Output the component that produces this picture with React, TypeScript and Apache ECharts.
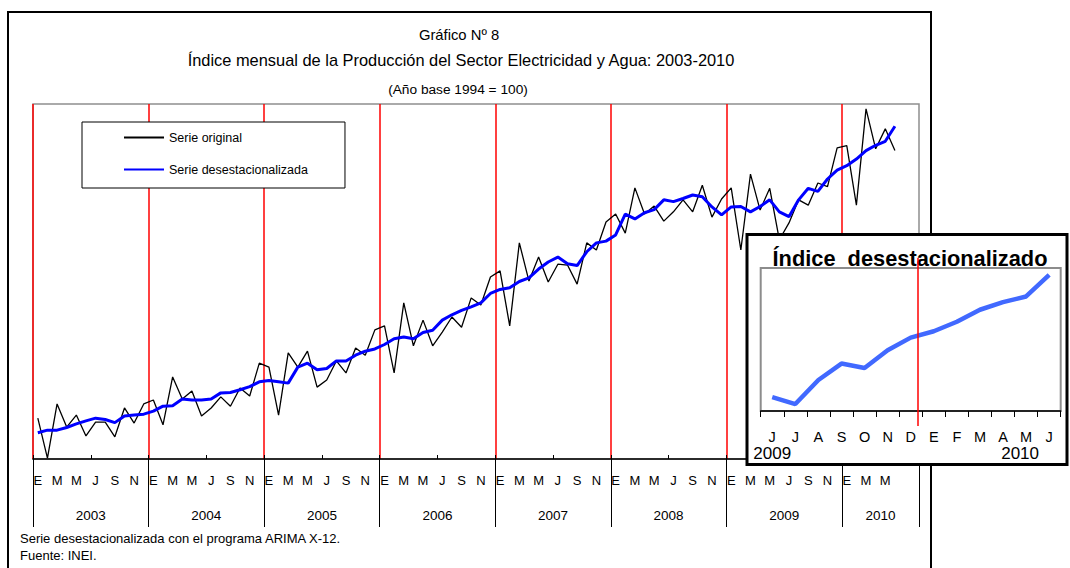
import React, { useEffect, useRef } from 'react';
import * as echarts from 'echarts';

const YEARS = [2003, 2004, 2005, 2006, 2007, 2008, 2009, 2010];
const MONTH_LETTERS = ['E', 'F', 'M', 'A', 'M', 'J', 'J', 'A', 'S', 'O', 'N', 'D'];
const AXIS_MONTHS = 92; // months reserved on the axis (Jan 2003 – Aug 2010)

const ORIGINAL = [
  149.2, 140.2, 152.4, 147.2, 149.9, 145.2, 148.3, 148.3, 145.0, 151.5, 148.1, 152.4,
  153.3, 147.7, 158.5, 153.5, 155.3, 149.7, 151.5, 154.0, 151.9, 156.0, 154.2, 161.6,
  160.7, 149.9, 163.9, 160.7, 164.3, 156.2, 157.8, 162.1, 159.4, 165.0, 163.4, 169.1,
  170.0, 159.4, 175.2, 165.5, 171.3, 165.5, 168.6, 172.0, 169.7, 176.3, 174.7, 181.0,
  182.4, 170.0, 188.7, 180.1, 185.5, 179.9, 183.9, 183.7, 179.4, 188.7, 187.1, 193.4,
  195.2, 190.9, 201.1, 195.2, 197.0, 193.6, 195.7, 198.4, 195.7, 201.7, 194.5, 198.6,
  201.1, 187.1, 204.2, 196.1, 201.0, 189.4, 193.2, 198.4, 197.2, 202.2, 201.4, 210.1,
  210.6, 197.2, 218.9, 209.9, 214.4, 209.5,
];

const DESEST = [
  145.9, 146.5, 146.5, 147.1, 147.9, 148.6, 149.2, 148.9, 148.2, 149.7, 149.9, 150.1,
  150.8, 151.9, 152.0, 153.5, 153.3, 153.3, 153.5, 154.9, 155.0, 155.6, 156.3, 157.4,
  157.7, 157.4, 157.1, 160.7, 161.6, 160.1, 160.4, 162.1, 162.1, 163.4, 164.3, 164.8,
  165.8, 167.1, 167.5, 167.1, 168.5, 169.0, 171.3, 172.5, 173.5, 174.3, 175.2, 177.3,
  178.2, 178.6, 180.0, 180.8, 182.8, 184.4, 185.5, 184.0, 183.6, 186.7, 188.7, 189.1,
  190.5, 195.2, 194.1, 195.5, 196.2, 198.4, 198.0, 198.7, 199.5, 199.1, 196.8, 195.0,
  196.8, 196.9, 195.7, 196.9, 198.4, 195.7, 194.6, 198.4, 201.0, 200.3, 203.1, 205.1,
  206.1, 207.6, 209.5, 210.7, 211.6, 215.0,
];

const INSET_START = 77; // junio 2009
const INSET_LABELS = ['J', 'J', 'A', 'S', 'O', 'N', 'D', 'E', 'F', 'M', 'A', 'M', 'J'];
const INSET_YEARS = ['2009', '2010'];
const INSET_YEAR_POS = [0, 11];

const TITLE_1 = 'Gráfico Nº 8';
const TITLE_2 = 'Índice mensual de la Producción del Sector Electricidad y Agua: 2003-2010';
const TITLE_3 = '(Año base 1994 = 100)';
const NOTE_1 = 'Serie desestacionalizada con el programa ARIMA X-12.';
const NOTE_2 = 'Fuente: INEI.';
const INSET_TITLE = 'Índice  desestacionalizado';

const FONT = '"Liberation Sans", Arial, Helvetica, sans-serif';

function buildOption(): any {
  const categories = Array.from(
    { length: AXIS_MONTHS },
    (_, i) => `${MONTH_LETTERS[i % 12]} ${YEARS[0] + Math.floor(i / 12)}`
  );
  const yearCenters = YEARS.map((_, k) => {
    const start = k * 12;
    const len = Math.min(12, AXIS_MONTHS - start);
    return start + len / 2;
  });
  const insetData = DESEST.slice(INSET_START);

  const hiddenLine = { show: false, onZero: false };

  return {
    animation: false,
    backgroundColor: '#ffffff',
    textStyle: { fontFamily: FONT },
    grid: [
      {
        left: 33, top: 104, width: 886, height: 355,
        show: true, borderColor: '#8f8f8f', borderWidth: 1.5, backgroundColor: 'transparent',
        containLabel: false, outerBoundsMode: 'none',
      },
      {
        left: 760.7, top: 268, width: 300, height: 143,
        show: true, borderColor: '#8c8c8c', borderWidth: 2, backgroundColor: 'transparent',
        containLabel: false, outerBoundsMode: 'none', z: 10,
      },
    ],
    legend: {
      data: ['Serie original', 'Serie desestacionalizada'],
      orient: 'vertical',
      left: 82,
      top: 122,
      padding: [9, 37, 12, 41],
      itemWidth: 40,
      itemHeight: 14,
      itemGap: 19,
      itemTextGap: 4,
      borderColor: '#000',
      borderWidth: 1,
      backgroundColor: '#fff',
      selectedMode: false,
      itemStyle: { opacity: 0 },
      textStyle: { fontSize: 12.5, color: '#000', fontFamily: FONT },
    },
    xAxis: [
      {
        type: 'category', gridIndex: 0, position: 'bottom', data: categories, boundaryGap: true,
        axisLine: { show: true, onZero: false, lineStyle: { color: '#000', width: 1.5 } },
        axisTick: { show: false },
        splitLine: { show: false },
        axisLabel: {
          interval: 1, margin: 15, fontSize: 13, color: '#000', fontFamily: FONT,
          formatter: (_v: string, i: number) => (i < ORIGINAL.length ? MONTH_LETTERS[i % 12] : ''),
        },
      },
      {
        type: 'value', gridIndex: 0, position: 'bottom', min: 0, max: AXIS_MONTHS, interval: 12,
        axisLine: hiddenLine,
        axisTick: { show: true, length: 68, lineStyle: { color: '#000', width: 1 } },
        axisLabel: { show: false },
        splitLine: { show: true, showMaxLine: false, lineStyle: { color: '#ff0000', width: 1.5 } },
      },
      {
        type: 'value', gridIndex: 0, position: 'bottom', min: 0, max: AXIS_MONTHS, interval: 6,
        axisLine: hiddenLine,
        axisTick: { show: true, inside: true, length: 4, lineStyle: { color: '#000', width: 1 } },
        axisLabel: { show: false },
        splitLine: { show: false },
      },
      {
        type: 'value', gridIndex: 0, position: 'bottom', min: 0, max: AXIS_MONTHS, interval: 2,
        axisLine: hiddenLine,
        axisTick: { show: false },
        splitLine: { show: false },
        axisLabel: {
          show: true, margin: 49, fontSize: 13.5, color: '#000', fontFamily: FONT,
          showMinLabel: true, showMaxLabel: true,
          formatter: (v: number) => {
            const k = yearCenters.indexOf(v);
            return k >= 0 ? String(YEARS[k]) : '';
          },
        },
      },
      {
        type: 'category', gridIndex: 1, position: 'bottom', data: INSET_LABELS.map((l, i) => `${l}${i}`),
        boundaryGap: true, z: 11,
        axisLine: { show: true, onZero: false, lineStyle: { color: '#000', width: 1.5 } },
        axisTick: { show: true, interval: 0, length: 6, lineStyle: { color: '#000', width: 1 } },
        splitLine: { show: false },
        axisLabel: {
          interval: 0, margin: 18, fontSize: 14.5, color: '#000', fontFamily: FONT,
          formatter: (_v: string, i: number) => INSET_LABELS[i],
        },
      },
      {
        type: 'category', gridIndex: 1, position: 'bottom', data: INSET_LABELS.map((l, i) => `${l}${i}`),
        boundaryGap: true, z: 11,
        axisLine: hiddenLine,
        axisTick: { show: false },
        splitLine: { show: false },
        axisLabel: {
          interval: 0, margin: 34, fontSize: 17, color: '#000', fontFamily: FONT,
          formatter: (_v: string, i: number) => {
            const k = INSET_YEAR_POS.indexOf(i);
            if (k < 0) return '';
            return k === 0 ? INSET_YEARS[k] : `{s|${INSET_YEARS[k]}}`;
          },
          rich: { s: { fontSize: 17, color: '#000', fontFamily: FONT, padding: [0, 12, 0, 0] } },
        },
      },
    ],
    yAxis: [
      { type: 'value', gridIndex: 0, min: 140, max: 220, show: false },
      { type: 'value', gridIndex: 1, min: 193.5, max: 216.1, show: false },
    ],
    series: [
      {
        name: 'Serie original', type: 'line', xAxisIndex: 0, yAxisIndex: 0,
        data: ORIGINAL, symbol: 'none', z: 2,
        lineStyle: { color: '#000', width: 1.3 }, itemStyle: { color: '#000' },
      },
      {
        name: 'Serie desestacionalizada', type: 'line', xAxisIndex: 0, yAxisIndex: 0,
        data: DESEST, symbol: 'none', z: 3,
        lineStyle: { color: '#0000ff', width: 3 }, itemStyle: { color: '#0000ff' },
      },
      {
        name: 'Índice desestacionalizado (recuadro)', type: 'line', xAxisIndex: 4, yAxisIndex: 1,
        data: insetData, symbol: 'none', z: 12,
        lineStyle: { color: '#4169ff', width: 4.5 }, itemStyle: { color: '#4169ff' },
      },
    ],
    graphic: [
      {
        type: 'rect', z: 1, silent: true,
        shape: { x: 8, y: 12, width: 923, height: 620 },
        style: { fill: 'none', stroke: '#000', lineWidth: 2 },
      },
      {
        type: 'text', z: 1, x: 459, y: 35,
        style: { text: TITLE_1, fontSize: 14.8, fontFamily: FONT, fill: '#000', align: 'center', verticalAlign: 'middle' },
      },
      {
        type: 'text', z: 1, x: 461, y: 60,
        style: { text: TITLE_2, fontSize: 16.4, fontFamily: FONT, fill: '#000', align: 'center', verticalAlign: 'middle' },
      },
      {
        type: 'text', z: 1, x: 458, y: 89,
        style: { text: TITLE_3, fontSize: 13.7, fontFamily: FONT, fill: '#000', align: 'center', verticalAlign: 'middle' },
      },
      {
        type: 'text', z: 1, x: 20, y: 538,
        style: { text: NOTE_1, fontSize: 13, fontFamily: FONT, fill: '#000', align: 'left', verticalAlign: 'middle' },
      },
      {
        type: 'text', z: 1, x: 20, y: 555,
        style: { text: NOTE_2, fontSize: 13, fontFamily: FONT, fill: '#000', align: 'left', verticalAlign: 'middle' },
      },
      {
        type: 'rect', z: 5, silent: true,
        shape: { x: 747, y: 234.5, width: 320, height: 230 },
        style: { fill: '#fff', stroke: '#000', lineWidth: 3 },
      },
      {
        type: 'text', z: 20, x: 910, y: 258,
        style: { text: INSET_TITLE, fontSize: 21.8, fontWeight: 'bold', fontFamily: FONT, fill: '#000', align: 'center', verticalAlign: 'middle' },
      },
      {
        type: 'line', z: 20, silent: true,
        shape: { x1: 918, y1: 258, x2: 918, y2: 426 },
        style: { stroke: '#ff0000', lineWidth: 1.5 },
      },
    ],
  };
}

export default function App() {
  const ref = useRef<HTMLDivElement>(null);
  useEffect(() => {
    if (!ref.current) return;
    const chart = echarts.init(ref.current, undefined, { renderer: 'svg' });
    chart.setOption(buildOption());
    return () => chart.dispose();
  }, []);
  return (
    <div
      ref={ref}
      style={{ position: 'fixed', left: 0, top: 0, width: 1070, height: 568, background: '#fff' }}
    />
  );
}
